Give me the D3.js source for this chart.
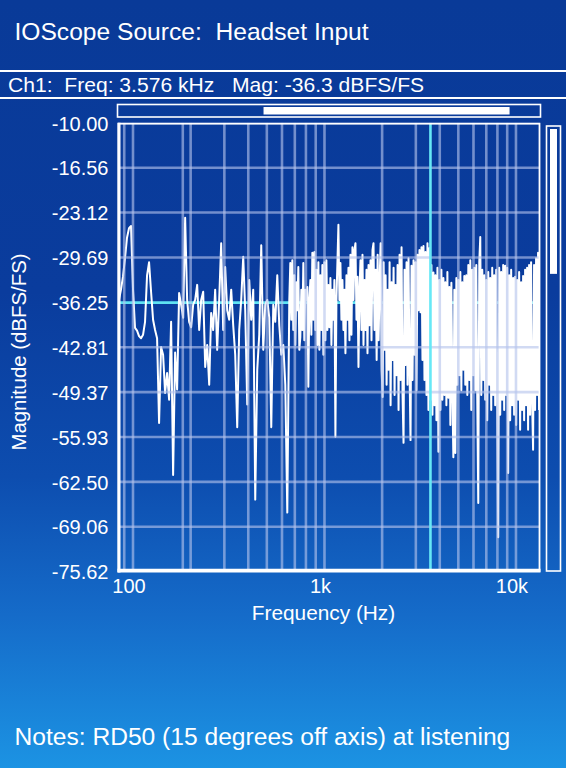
<!DOCTYPE html>
<html><head><meta charset="utf-8">
<script src="https://cdn.jsdelivr.net/npm/d3@7/dist/d3.min.js"></script>
<style>html,body{margin:0;padding:0;background:#0a3a9a;}svg{display:block;}text{white-space:pre;}</style>
</head><body><svg id="c" width="566" height="768"></svg>
<script>
// ---------- data ----------
const titleText = "IOScope Source:  Headset Input";
const statusText = "Ch1:  Freq: 3.576 kHz   Mag: -36.3 dBFS/FS";
const notesText = "Notes: RD50 (15 degrees off axis) at listening";
const xAxisTitle = "Frequency (Hz)";
const yAxisTitle = "Magnitude (dBFS/FS)";

const yTickValues = [-10, -16.5625, -23.125, -29.6875, -36.25, -42.8125, -49.375, -55.9375, -62.5, -69.0625, -75.625];
const yTickLabels = ["-10.00","-16.56","-23.12","-29.69","-36.25","-42.81","-49.37","-55.93","-62.50","-69.06","-75.62"];
const xTickValues = [100, 1000, 10000];
const xTickLabels = ["100", "1k", "10k"];
const gridFreqs = [90, 100, 182, 200, 300, 400, 500, 600, 700, 800, 900, 1000,
                   2000, 3000, 4000, 5000, 6000, 7000, 8000, 9000, 10000];
const freqDomain = [83.5, 13350];
const magDomain = [-75.625, -10];
const cursorFreq = 3576;
const cursorMag = -36.3;
const hScrollThumb = [0.343, 0.933];   // fraction of track
const vScrollThumb = [0.0, 0.33];

// spectrum, in four frequency bands (Hz range + magnitudes dBFS)
const bandAHz = [84.5, 250];
const bandAMag = [-35.9,-34.4,-32.5,-29.8,-26.8,-25.4,-25.1,-34.4,-40.0,-40.4,-41.2,-41.5,-41.0,-39.1,-32.3,-30.4,
  -34.7,-38.8,-40.3,-41.5,-53.9,-42.8,-43.9,-49.5,-46.6,-50.5,-39.1,-61.5,-43.6,-49.0,-34.9,-36.6,-38.5,-23.9,
  -35.9,-39.1,-39.9,-36.6,-35.9,-33.7,-40.3,-35.9,-34.7,-45.7,-42.5,-48.3];
const bandBHz = [256, 655];
const bandBMag = [-37.8,-40.3,-34.4,-43.2,-35.9,-27.6,-40.3,-31.1,-37.4,-38.8,-34.4,-39.6,-43.9,-54.5,-40.3,-35.9,
  -29.6,-37.4,-51.2,-33.0,-38.8,-34.4,-65.1,-46.1,-41.0,-27.9,-43.2,-36.6,-35.9,-38.5,-54.5,-36.6,-39.1,-32.3,
  -39.6,-43.9,-42.5,-48.3,-67.0,-35.9];
const bandCHz = [663, 1825];
const bandCMag = [-30.5,-38.8,-30.1,-40.3,-32.3,-42.5,-33.3,-37.4,-31.1,-43.2,-41.3,-34.4,-40.3,-30.5,-41.8,-34.4,
  -35.9,-34.0,-48.6,-35.9,-33.0,-41.0,-29.0,-38.8,-28.9,-40.3,-31.5,-42.5,-30.4,-43.2,-32.3,-40.3,-30.8,-43.9,
  -30.4,-41.8,-30.1,-40.3,-33.7,-39.9,-32.7,-42.5,-34.4,-38.8,-33.0,-55.9,-35.9,-30.4,-24.9,-35.9,-30.5,-38.8,
  -33.0,-40.3,-34.4,-43.7,-32.3,-38.8,-31.2,-41.8,-29.3,-41.0,-28.2,-35.9,-28.6,-27.6,-38.8,-32.5,-45.7,-34.4,
  -30.1,-40.3,-29.3,-42.5,-33.0,-40.3,-31.5,-43.7,-30.8,-39.6,-30.1,-41.8,-28.6,-27.6,-40.3];
const bandDHz = [1850, 13200];
const bandDMag = [-31.5,-44.7,-29.3,-41.8,-33.0,-27.6,-46.1,-50.1,-30.4,-43.2,
  -32.3,-48.3,-34.4,-46.1,-30.4,-51.3,-33.3,-44.7,-31.2,-49.8,
  -33.7,-46.9,-30.8,-52.0,-29.3,-47.6,-28.2,-49.8,-56.8,-31.5,
  -45.4,-30.4,-48.3,-29.8,-46.1,-56.4,-30.9,-47.6,-30.1,-43.9,
  -30.4,-49.1,-29.3,-37.4,-28.6,-37.7,-28.2,-44.7,-28.0,-47.6,
  -28.9,-49.8,-27.6,-52.0,-28.3,-50.5,-30.8,-52.7,-31.9,-51.3,
  -32.3,-53.5,-31.2,-58.1,-33.0,-52.0,-31.5,-50.5,-32.7,-49.8,
  -33.3,-51.3,-31.8,-50.2,-34.0,-54.2,-33.4,-49.1,-58.9,-34.4,
  -58.3,-32.7,-48.3,-33.0,-46.9,-31.8,-49.1,-33.3,-46.1,-32.4,
  -48.3,-32.3,-49.8,-30.8,-47.6,-30.1,-52.0,-31.5,-46.9,-31.2,
  -49.1,-30.8,-50.5,-65.6,-30.4,-26.7,-49.8,-31.5,-47.6,-32.3,
  -50.5,-33.0,-53.5,-31.8,-48.3,-32.7,-52.0,-31.2,-49.8,-32.3,
  -51.3,-31.5,-49.8,-70.6,-31.2,-52.7,-31.8,-50.5,-30.8,-52.0,
  -30.9,-49.8,-31.2,-61.2,-32.3,-53.5,-31.5,-51.3,-32.7,-52.7,
  -32.5,-54.2,-33.0,-50.5,-31.8,-54.9,-33.3,-52.0,-32.4,-53.5,
  -31.5,-51.3,-31.2,-54.9,-30.8,-52.7,-30.4,-50.5,-57.8,-30.8,
  -52.0,-29.8,-49.8,-29.0,-52.0];

// ---------- layout ----------
const W = 566, H = 768;
const plot = {x0: 118, x1: 540, y0: 122.8, y1: 571.6};
const FONT = "'Liberation Sans', Arial, Helvetica, sans-serif";
const svg = d3.select("#c");

const defs = svg.append("defs");
const grad = defs.append("linearGradient").attr("id","bg").attr("x1",0).attr("y1",0).attr("x2",0).attr("y2",1);
[[0,"#093a98"],[0.38,"#0a3c9d"],[0.62,"#0d4daf"],[0.8,"#156bc9"],[1,"#1c93e3"]]
  .forEach(([o,c]) => grad.append("stop").attr("offset",o).attr("stop-color",c));
defs.append("clipPath").attr("id","clip").append("rect")
  .attr("x",plot.x0).attr("y",plot.y0).attr("width",plot.x1-plot.x0).attr("height",plot.y1-plot.y0);

svg.append("rect").attr("width",W).attr("height",H).attr("fill","url(#bg)");

const x = d3.scaleLog().domain(freqDomain).range([plot.x0, plot.x1]);
const y = d3.scaleLinear().domain(magDomain).range([plot.y1, plot.y0]);

// header
svg.append("text").attr("x",14.5).attr("y",39.5).attr("fill","#fff").attr("xml:space","preserve")
  .attr("font-family",FONT).attr("font-size",24.6).text(titleText);
svg.append("line").attr("x1",0).attr("x2",W).attr("y1",71).attr("y2",71).attr("stroke","#fff").attr("stroke-width",2);
svg.append("text").attr("x",8).attr("y",91.5).attr("fill","#fff").attr("xml:space","preserve")
  .attr("font-family",FONT).attr("font-size",21.1).text(statusText);
svg.append("line").attr("x1",0).attr("x2",W).attr("y1",98).attr("y2",98).attr("stroke","#fff").attr("stroke-width",2);

// top scrollbar
const hs = {x0: 117.5, x1: 540.5, y0: 104.5, y1: 117};
svg.append("rect").attr("x",hs.x0).attr("y",hs.y0).attr("width",hs.x1-hs.x0).attr("height",hs.y1-hs.y0)
  .attr("fill","none").attr("stroke","#fff").attr("stroke-width",1.6);
const hsScale = d3.scaleLinear().domain([0,1]).range([hs.x0+3, hs.x1-3]);
svg.append("rect").attr("x",hsScale(hScrollThumb[0])).attr("y",hs.y0+2.5)
  .attr("width",hsScale(hScrollThumb[1])-hsScale(hScrollThumb[0])).attr("height",hs.y1-hs.y0-5).attr("fill","#fff");

// right scrollbar
const vs = {x0: 546.5, x1: 560.5, y0: 126, y1: 571};
svg.append("rect").attr("x",vs.x0).attr("y",vs.y0).attr("width",vs.x1-vs.x0).attr("height",vs.y1-vs.y0)
  .attr("fill","none").attr("stroke","#fff").attr("stroke-width",1.6);
const vsScale = d3.scaleLinear().domain([0,1]).range([vs.y0+3, vs.y1-3]);
svg.append("rect").attr("x",vs.x0+3.5).attr("y",vsScale(vScrollThumb[0]))
  .attr("width",vs.x1-vs.x0-7).attr("height",vsScale(vScrollThumb[1])-vsScale(vScrollThumb[0])).attr("fill","#fff");

const g = svg.append("g").attr("clip-path","url(#clip)");

// horizontal cursor (under the trace)
g.append("line").attr("x1",plot.x0).attr("x2",plot.x1).attr("y1",y(cursorMag)).attr("y2",y(cursorMag))
  .attr("stroke","#5fe3f2").attr("stroke-width",2.8);

// spectrum
function band(hz, mags){
  const n = mags.length;
  return mags.map((m,i) => ({f: hz[0]*Math.pow(hz[1]/hz[0], i/(n-1)), m}));
}
const spectrum = [].concat(band(bandAHz,bandAMag), band(bandBHz,bandBMag), band(bandCHz,bandCMag), band(bandDHz,bandDMag));
g.append("path").datum(spectrum)
  .attr("d", d3.line().x(d=>x(d.f)).y(d=>y(d.m)))
  .attr("fill","none").attr("stroke","#fff").attr("stroke-width",2).attr("stroke-linejoin","round");

// grid (semi transparent, over the trace)
const gridColor = "#b4c4eb";
g.selectAll(".hg").data(yTickValues.filter(v => Math.abs(v - cursorMag) > 0.2)).join("line")
  .attr("x1",plot.x0).attr("x2",plot.x1).attr("y1",d=>y(d)).attr("y2",d=>y(d))
  .attr("stroke",gridColor).attr("stroke-opacity",0.62).attr("stroke-width",2.6);
g.selectAll(".vg").data(gridFreqs).join("line")
  .attr("x1",d=>x(d)).attr("x2",d=>x(d)).attr("y1",plot.y0).attr("y2",plot.y1)
  .attr("stroke",gridColor).attr("stroke-opacity",0.62).attr("stroke-width",2.6);

// vertical cursor
g.append("line").attr("x1",x(cursorFreq)).attr("x2",x(cursorFreq)).attr("y1",plot.y0).attr("y2",plot.y1)
  .attr("stroke","#66e8f6").attr("stroke-width",2.6);

// plot frame
svg.append("rect").attr("x",plot.x0+0.5).attr("y",plot.y0+0.9).attr("width",plot.x1-plot.x0-1).attr("height",plot.y1-plot.y0-1.5)
  .attr("fill","none").attr("stroke","#fff").attr("stroke-width",1.8);
svg.append("line").attr("x1",119).attr("x2",119).attr("y1",plot.y0).attr("y2",572.5).attr("stroke","#fff").attr("stroke-width",3);
svg.append("line").attr("x1",117.5).attr("x2",540.5).attr("y1",570.6).attr("y2",570.6).attr("stroke","#fff").attr("stroke-width",3.6);

// axes
const yAxis = d3.axisLeft(y).tickValues(yTickValues).tickFormat((d,i)=>yTickLabels[i]).tickSize(0).tickPadding(0);
const ya = svg.append("g").attr("transform","translate(108.5,0)").call(yAxis);
ya.select(".domain").remove();
ya.selectAll("text").attr("fill","#fff").attr("font-family",FONT).attr("font-size",20).attr("dy","0.36em");

const xAxis = d3.axisBottom(x).tickValues(xTickValues).tickFormat((d,i)=>xTickLabels[i]).tickSize(0).tickPadding(0);
const xa = svg.append("g").attr("transform","translate(-4.5,578.5)").call(xAxis);
xa.select(".domain").remove();
xa.selectAll("text").attr("fill","#fff").attr("font-family",FONT).attr("font-size",20).attr("dy","0.71em");

svg.append("text").attr("x",323.5).attr("y",620).attr("text-anchor","middle").attr("fill","#fff")
  .attr("font-family",FONT).attr("font-size",20.8).text(xAxisTitle);
svg.append("text").attr("transform","translate(26,352) rotate(-90)").attr("text-anchor","middle").attr("fill","#fff")
  .attr("font-family",FONT).attr("font-size",20.4).text(yAxisTitle);

// notes
svg.append("text").attr("x",14.5).attr("y",745).attr("fill","#fff")
  .attr("font-family",FONT).attr("font-size",24.6).text(notesText);
</script></body></html>
